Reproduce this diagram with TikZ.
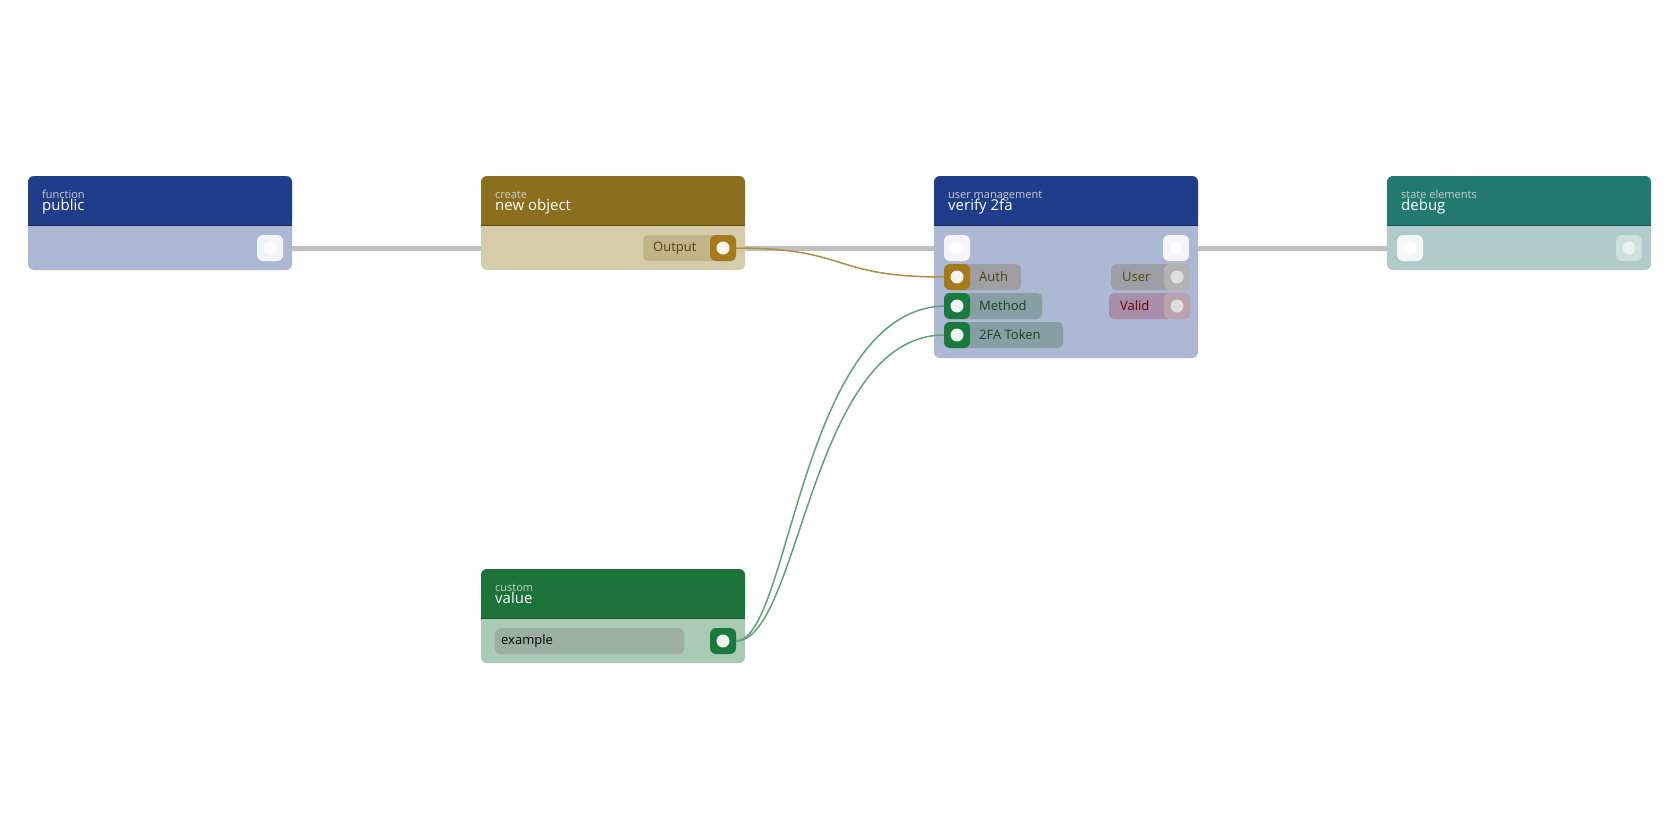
\documentclass[tikz,border=0pt]{standalone}
\usepackage{fontspec}
\setmainfont{Open Sans}
\begin{document}
\begin{tikzpicture}[x=1pt,y=-1pt,
  sm/.style={font=\fontsize{11}{12}\selectfont, text=white!80!black, anchor=base west, inner sep=0},
  ttl/.style={font=\fontsize{15}{16}\selectfont, text=white, anchor=base west, inner sep=0},
  lbl/.style={font=\fontsize{13}{14}\selectfont, anchor=west, inner sep=0},
  wire/.style={line width=5pt, draw=black!25},
]
\definecolor{bH}{HTML}{1F3D88}\definecolor{bB}{HTML}{ADB9D4}
\definecolor{oH}{HTML}{8C6F1E}\definecolor{oB}{HTML}{D5CCAB}
\definecolor{tH}{HTML}{227A6E}\definecolor{tB}{HTML}{B0CBCA}
\definecolor{gH}{HTML}{1C7339}\definecolor{gB}{HTML}{AACBB3}
\definecolor{oP}{HTML}{A57A1C}\definecolor{gP}{HTML}{1A7A3E}
\useasboundingbox (0,0) rectangle (1680,840);
\fill[white] (0,0) rectangle (1680,840);
\newcommand\mynode[6]{%
  \fill[#6,rounded corners=6pt] (#1,#2) rectangle (#3,#4);
  \fill[#5,rounded corners=6pt] (#1,#2) rectangle (#3,{#2+49});
  \fill[#5] (#1,{#2+30}) rectangle (#3,{#2+49});
  \draw[#5!70!black,line width=0.6pt] (#1,{#2+49}) -- (#3,{#2+49});}
\newcommand\port[4]{%
  \fill[#4,rounded corners=6pt] ({#2-13},{#3-13}) rectangle ({#2+13},{#3+13});
  \coordinate (#1) at (#2,#3);
  \fill[white,opacity=.92] (#2,#3) circle (6.5);}
\newcommand\pill[5]{%
  \fill[#4,opacity=#5,rounded corners=5pt] (#1,{#2-13}) rectangle (#3,{#2+13});}

\draw[wire] (260,248) -- (940,248);
\draw[wire] (1175,248) -- (1410,248);

% public
\mynode{28}{176}{292}{270}{bH}{bB}
\node[sm] at (42,198) {function};
\node[ttl] at (42,210) {public};
\port{pub}{270}{248}{white!85!bB}

% create
\mynode{481}{176}{745}{270}{oH}{oB}
\fill[oB,opacity=.8] (481,240) rectangle (745,256);
\node[sm] at (495,198) {create};
\node[ttl] at (495,210) {new object};
\pill{643}{248}{736}{oH}{.25}
\node[lbl,text=oH!60!black] at (653,248) {Output};
\port{out}{723}{248}{oP}

% verify
\mynode{934}{176}{1198}{358}{bH}{bB}
\node[sm] at (948,198) {user management};
\node[ttl] at (948,210) {verify 2fa};
\port{vin}{957}{248}{white!85!bB}
\port{vout}{1176}{248}{white!85!bB}
\pill{944}{277}{1021}{oH!40!gray}{.4}
\node[lbl,text=oH!60!black] at (979,277) {Auth};
\port{auth}{957}{277}{oP}
\pill{944}{306}{1042}{gH!50!gray}{.4}
\node[lbl,text=gH!60!black] at (979,306) {Method};
\port{meth}{957}{306}{gP}
\pill{944}{335}{1063}{gH!50!gray}{.4}
\node[lbl,text=gH!60!black] at (979,335) {2FA Token};
\port{tok}{957}{335}{gP}
\pill{1111}{277}{1190}{oH!30!gray}{.4}
\node[lbl,text=oH!60!black] at (1122,277) {User};
\fill[gray!60,rounded corners=5pt] (1164,264) rectangle (1190,290);
\fill[white!75!gray] (1177,277) circle (6.5);
\pill{1109}{306}{1190}{purple!50!gray}{.35}
\node[lbl,text=red!40!black] at (1120,306) {Valid};
\fill[purple!20!gray!60,rounded corners=5pt] (1164,293) rectangle (1190,319);
\fill[white!75!gray] (1177,306) circle (6.5);

% debug
\mynode{1387}{176}{1651}{270}{tH}{tB}
\node[sm] at (1401,198) {state elements};
\node[ttl] at (1401,210) {debug};
\port{din}{1410}{248}{white!85!tB}
\fill[white!40!tB,rounded corners=6pt] (1616,235) rectangle (1642,261);
\fill[white!75!tB] (1629,248) circle (6.5);

% value
\mynode{481}{569}{745}{663}{gH}{gB}
\node[sm] at (495,591) {custom};
\node[ttl] at (495,603) {value};
\pill{495}{641}{684}{gray!60!gB}{.6}
\node[lbl,text=black] at (501,641) {example};
\port{val}{723}{641}{gP}

\draw[oP!85!white,line width=1.5pt] ([xshift=13]out) .. controls (850,248) and (830,277) .. ([xshift=-13]auth);
\draw[gP!70!white,line width=1.5pt] ([xshift=13]val) .. controls (790,641) and (800,310) .. ([xshift=-13]meth);
\draw[gP!70!white,line width=1.5pt] ([xshift=13]val) .. controls (800,641) and (810,335) .. ([xshift=-13]tok);
\end{tikzpicture}
\end{document}
